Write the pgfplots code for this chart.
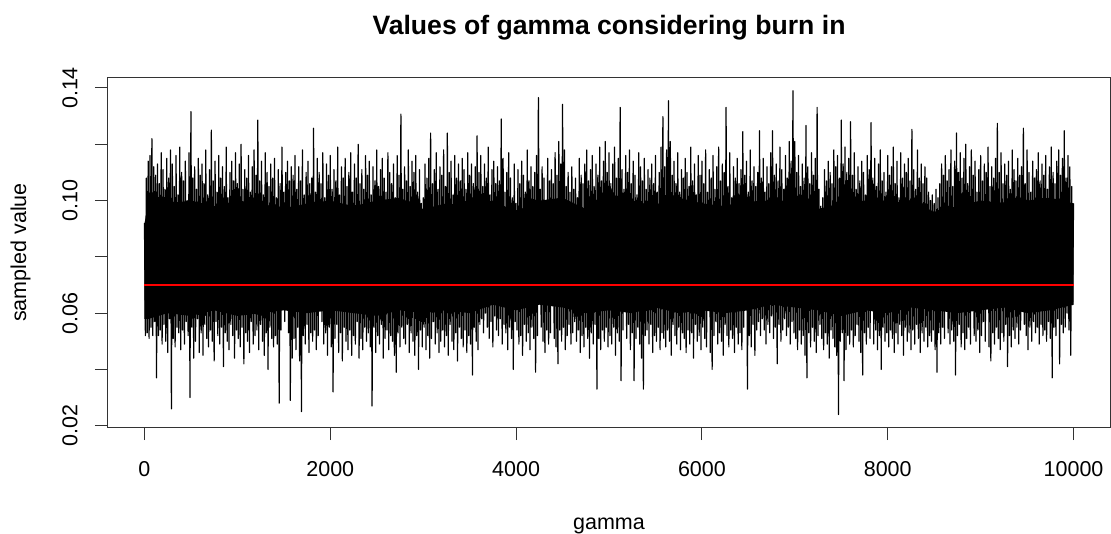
\documentclass[border=0pt]{standalone}
\usepackage{pgfplots}
\pgfplotsset{compat=1.18}
\usepackage{fontspec}
\setmainfont{Liberation Sans}
\begin{document}
\begin{tikzpicture}
\useasboundingbox (-53.65pt,-53.15pt) rectangle (501.85pt,213.85pt);
\begin{axis}[
  at={(0pt,0pt)}, anchor=south west,
  scale only axis, width=501.7pt, height=175.2pt,
  xmin=-400, xmax=10400, ymin=0.01929, ymax=0.1438,
  scaled x ticks=false, scaled y ticks=false,
  axis line style={black!80, line width=0.5pt},
  tick style={black!80, line width=0.5pt},
  tick align=outside, major tick length=6.2pt,
  tick pos=left,
  xtick={0,2000,4000,6000,8000,10000},
  xticklabels={0,2000,4000,6000,8000,10000},
  ytick={0.02,0.04,0.06,0.08,0.10,0.12,0.14},
  yticklabels={0.02,,0.06,,0.10,,0.14},
  tick label style={font=\fontsize{10.75}{12}\selectfont},
  xticklabel style={anchor=base, yshift=-17.95pt},
  yticklabel style={anchor=base, rotate=90, yshift=8.8pt},
  title={Values of gamma considering burn in},
  title style={font=\bfseries\fontsize{13.3}{16}\selectfont, at={(axis description cs:0.5,1.0885)}, anchor=base},
  xlabel={gamma},
  xlabel style={font=\fontsize{10.75}{12}\selectfont, at={(axis description cs:0.5,-0.2894)}, anchor=base},
  ylabel={sampled value},
  ylabel style={font=\fontsize{10.75}{12}\selectfont, at={(axis description cs:-0.0810,0.5)}, anchor=base, rotate=0},
]
% dense core of the trace (solid black region)
\addplot[fill=black, draw=none] coordinates {
(0,0.092) (50,0.099) (250,0.099) (500,0.100) (750,0.098) (1000,0.100) (1250,0.099) (1500,0.097) (1750,0.099) (2000,0.100)
(2250,0.098) (2500,0.100) (2750,0.101) (3000,0.097) (3250,0.099) (3500,0.098) (3750,0.100) (4000,0.096) (4250,0.100) (4500,0.101)
(4750,0.097) (5000,0.099) (5250,0.100) (5500,0.098) (5750,0.101) (6000,0.099) (6250,0.098) (6500,0.100) (6750,0.099) (7000,0.101)
(7250,0.097) (7500,0.099) (7750,0.100) (8000,0.099) (8250,0.100) (8500,0.096) (8750,0.098) (9000,0.100) (9250,0.099) (9500,0.100)
(9750,0.101) (10000,0.099)
(10000,0.063) (9750,0.061) (9500,0.060) (9250,0.062) (9000,0.061) (8750,0.060) (8500,0.061) (8250,0.062) (8000,0.060) (7750,0.061)
(7500,0.059) (7250,0.061) (7000,0.062) (6750,0.063) (6500,0.061) (6250,0.060) (6000,0.061) (5750,0.060) (5500,0.062) (5250,0.060)
(5000,0.061) (4750,0.060) (4500,0.062) (4250,0.063) (4000,0.061) (3750,0.063) (3500,0.060) (3250,0.061) (3000,0.060) (2750,0.061)
(2500,0.059) (2250,0.060) (2000,0.061) (1750,0.060) (1500,0.061) (1250,0.060) (1000,0.059) (750,0.061) (500,0.059) (250,0.060)
(50,0.058) (0,0.058)
} -- cycle;
\addplot[black, line width=0.6pt, line join=round, mark=none] table[row sep=\\, header=false, x expr=\coordindex*10, y index=0] {
0.092\\0.052\\0.108\\0.053\\0.114\\0.051\\0.116\\0.055\\0.122\\0.052\\0.112\\0.057\\0.109\\0.037\\0.113\\0.052\\0.106\\0.054\\0.117\\0.049\\
0.111\\0.056\\0.104\\0.050\\0.115\\0.046\\0.108\\0.058\\0.118\\0.026\\0.113\\0.051\\0.105\\0.048\\0.116\\0.055\\0.102\\0.053\\0.119\\0.047\\
0.110\\0.054\\0.107\\0.049\\0.114\\0.057\\0.100\\0.052\\0.117\\0.030\\0.1316\\0.055\\0.108\\0.044\\0.112\\0.050\\0.104\\0.058\\0.115\\0.046\\
0.109\\0.053\\0.113\\0.045\\0.106\\0.056\\0.118\\0.051\\0.102\\0.048\\0.111\\0.054\\0.125\\0.050\\0.107\\0.043\\0.114\\0.057\\0.103\\0.052\\
0.116\\0.049\\0.108\\0.055\\0.112\\0.041\\0.105\\0.053\\0.119\\0.050\\0.101\\0.047\\0.110\\0.056\\0.114\\0.052\\0.107\\0.044\\0.117\\0.054\\
0.106\\0.051\\0.113\\0.048\\0.120\\0.055\\0.104\\0.042\\0.111\\0.053\\0.108\\0.050\\0.116\\0.046\\0.103\\0.057\\0.112\\0.049\\0.118\\0.052\\
0.109\\0.054\\0.1286\\0.047\\0.107\\0.056\\0.114\\0.050\\0.102\\0.045\\0.117\\0.053\\0.110\\0.040\\0.105\\0.055\\0.113\\0.051\\0.108\\0.048\\
0.115\\0.052\\0.101\\0.049\\0.111\\0.028\\0.106\\0.054\\0.119\\0.069\\0.103\\0.057\\0.110\\0.075\\0.114\\0.053\\0.107\\0.029\\0.112\\0.044\\
0.109\\0.051\\0.116\\0.047\\0.104\\0.055\\0.112\\0.043\\0.107\\0.025\\0.118\\0.052\\0.102\\0.049\\0.110\\0.056\\0.114\\0.046\\0.106\\0.053\\
0.108\\0.050\\0.1257\\0.054\\0.103\\0.047\\0.115\\0.052\\0.110\\0.070\\0.106\\0.057\\0.117\\0.049\\0.101\\0.053\\0.113\\0.045\\0.109\\0.055\\
0.116\\0.048\\0.104\\0.032\\0.111\\0.051\\0.107\\0.056\\0.119\\0.046\\0.102\\0.053\\0.112\\0.043\\0.108\\0.055\\0.115\\0.050\\0.105\\0.047\\
0.110\\0.054\\0.117\\0.045\\0.103\\0.052\\0.113\\0.049\\0.108\\0.057\\0.120\\0.044\\0.106\\0.051\\0.111\\0.047\\0.104\\0.055\\0.116\\0.050\\
0.109\\0.053\\0.114\\0.048\\0.102\\0.027\\0.112\\0.055\\0.107\\0.046\\0.118\\0.052\\0.105\\0.049\\0.111\\0.056\\0.115\\0.044\\0.108\\0.051\\
0.103\\0.054\\0.117\\0.047\\0.110\\0.052\\0.106\\0.050\\0.113\\0.045\\0.101\\0.039\\0.116\\0.053\\0.109\\0.048\\0.1307\\0.055\\0.104\\0.051\\
0.112\\0.049\\0.107\\0.056\\0.118\\0.046\\0.105\\0.053\\0.114\\0.050\\0.110\\0.045\\0.116\\0.052\\0.103\\0.040\\0.111\\0.054\\0.099\\0.048\\
0.101\\0.055\\0.113\\0.047\\0.108\\0.052\\0.115\\0.044\\0.124\\0.051\\0.106\\0.057\\0.111\\0.049\\0.117\\0.053\\0.104\\0.046\\0.112\\0.050\\
0.109\\0.054\\0.118\\0.048\\0.105\\0.052\\0.124\\0.045\\0.110\\0.056\\0.114\\0.050\\0.102\\0.047\\0.116\\0.053\\0.108\\0.043\\0.113\\0.055\\
0.107\\0.051\\0.115\\0.048\\0.111\\0.054\\0.104\\0.046\\0.117\\0.052\\0.109\\0.049\\0.113\\0.038\\0.106\\0.055\\0.112\\0.050\\0.123\\0.047\\
0.110\\0.056\\0.116\\0.058\\0.105\\0.053\\0.113\\0.060\\0.108\\0.055\\0.119\\0.051\\0.102\\0.057\\0.111\\0.048\\0.114\\0.059\\0.106\\0.054\\
0.112\\0.052\\0.107\\0.058\\0.129\\0.049\\0.115\\0.056\\0.103\\0.053\\0.110\\0.047\\0.117\\0.055\\0.108\\0.051\\0.101\\0.040\\0.113\\0.057\\
0.099\\0.054\\0.111\\0.049\\0.106\\0.052\\0.114\\0.045\\0.109\\0.056\\0.103\\0.050\\0.118\\0.053\\0.107\\0.047\\0.112\\0.055\\0.105\\0.051\\
0.110\\0.039\\0.116\\0.052\\0.1366\\0.070\\0.104\\0.055\\0.112\\0.050\\0.108\\0.046\\0.100\\0.054\\0.115\\0.049\\0.107\\0.053\\0.111\\0.069\\
0.106\\0.051\\0.117\\0.048\\0.109\\0.042\\0.121\\0.054\\0.113\\0.050\\0.1342\\0.055\\0.118\\0.047\\0.105\\0.052\\0.110\\0.056\\0.103\\0.049\\
0.112\\0.053\\0.104\\0.057\\0.108\\0.050\\0.101\\0.054\\0.115\\0.046\\0.109\\0.052\\0.106\\0.048\\0.113\\0.055\\0.118\\0.051\\0.107\\0.044\\
0.111\\0.053\\0.116\\0.049\\0.105\\0.056\\0.113\\0.033\\0.109\\0.051\\0.119\\0.047\\0.107\\0.054\\0.114\\0.050\\0.121\\0.055\\0.110\\0.048\\
0.117\\0.052\\0.106\\0.049\\0.113\\0.055\\0.119\\0.045\\0.108\\0.053\\0.115\\0.050\\0.1331\\0.036\\0.111\\0.054\\0.104\\0.072\\0.116\\0.051\\
0.110\\0.056\\0.118\\0.047\\0.106\\0.053\\0.114\\0.036\\0.109\\0.051\\0.102\\0.055\\0.117\\0.049\\0.112\\0.044\\0.107\\0.033\\0.115\\0.052\\
0.104\\0.054\\0.111\\0.049\\0.108\\0.056\\0.113\\0.046\\0.106\\0.052\\0.116\\0.050\\0.103\\0.055\\0.110\\0.047\\0.119\\0.053\\0.1298\\0.051\\
0.112\\0.048\\0.118\\0.054\\0.1355\\0.050\\0.121\\0.045\\0.109\\0.056\\0.114\\0.052\\0.106\\0.049\\0.117\\0.055\\0.103\\0.047\\0.111\\0.053\\
0.108\\0.051\\0.115\\0.046\\0.110\\0.054\\0.105\\0.049\\0.119\\0.053\\0.107\\0.044\\0.113\\0.056\\0.102\\0.050\\0.116\\0.052\\0.109\\0.047\\
0.114\\0.055\\0.106\\0.051\\0.118\\0.048\\0.103\\0.071\\0.111\\0.046\\0.108\\0.040\\0.116\\0.052\\0.104\\0.057\\0.112\\0.049\\0.119\\0.053\\
0.107\\0.050\\0.113\\0.045\\0.110\\0.056\\0.1331\\0.052\\0.105\\0.048\\0.117\\0.054\\0.101\\0.051\\0.112\\0.046\\0.108\\0.055\\0.115\\0.049\\
0.106\\0.053\\0.111\\0.047\\0.1245\\0.055\\0.109\\0.070\\0.114\\0.033\\0.103\\0.052\\0.118\\0.048\\0.107\\0.056\\0.112\\0.045\\0.105\\0.054\\
0.110\\0.057\\0.1248\\0.052\\0.108\\0.058\\0.115\\0.054\\0.103\\0.049\\0.112\\0.056\\0.106\\0.053\\0.117\\0.059\\0.1248\\0.051\\0.109\\0.055\\
0.113\\0.042\\0.107\\0.056\\0.119\\0.050\\0.111\\0.054\\0.104\\0.058\\0.116\\0.052\\0.108\\0.055\\0.121\\0.049\\0.114\\0.057\\0.139\\0.053\\
0.121\\0.051\\0.110\\0.047\\0.116\\0.054\\0.105\\0.049\\0.113\\0.052\\0.108\\0.045\\0.1267\\0.037\\0.112\\0.053\\0.106\\0.048\\0.117\\0.055\\
0.109\\0.050\\0.115\\0.046\\0.1331\\0.052\\0.104\\0.056\\0.098\\0.051\\0.101\\0.047\\0.111\\0.053\\0.107\\0.049\\0.114\\0.044\\0.110\\0.054\\
0.106\\0.051\\0.118\\0.048\\0.112\\0.045\\0.116\\0.024\\0.108\\0.050\\0.1286\\0.053\\0.113\\0.036\\0.119\\0.047\\0.110\\0.052\\0.115\\0.049\\
0.128\\0.054\\0.109\\0.048\\0.117\\0.052\\0.104\\0.056\\0.112\\0.050\\0.107\\0.046\\0.114\\0.038\\0.110\\0.053\\0.102\\0.049\\0.116\\0.055\\
0.111\\0.051\\0.1277\\0.072\\0.108\\0.049\\0.115\\0.054\\0.105\\0.047\\0.113\\0.052\\0.118\\0.040\\0.107\\0.055\\0.110\\0.050\\0.103\\0.053\\
0.116\\0.048\\0.109\\0.054\\0.112\\0.051\\0.119\\0.046\\0.106\\0.053\\0.114\\0.049\\0.101\\0.056\\0.117\\0.052\\0.108\\0.045\\0.113\\0.055\\
0.110\\0.050\\0.115\\0.053\\0.107\\0.047\\0.1253\\0.054\\0.111\\0.049\\0.104\\0.056\\0.118\\0.051\\0.108\\0.046\\0.113\\0.053\\0.106\\0.050\\
0.112\\0.055\\0.108\\0.048\\0.103\\0.052\\0.100\\0.050\\0.102\\0.054\\0.099\\0.047\\0.104\\0.039\\0.101\\0.053\\0.106\\0.049\\0.113\\0.055\\
0.109\\0.051\\0.116\\0.069\\0.107\\0.053\\0.111\\0.049\\0.118\\0.054\\0.105\\0.050\\0.114\\0.038\\0.124\\0.052\\0.110\\0.056\\0.117\\0.048\\
0.108\\0.053\\0.115\\0.047\\0.120\\0.051\\0.106\\0.055\\0.112\\0.049\\0.118\\0.069\\0.109\\0.052\\0.114\\0.050\\0.103\\0.054\\0.111\\0.046\\
0.116\\0.052\\0.107\\0.057\\0.113\\0.050\\0.110\\0.075\\0.119\\0.048\\0.105\\0.043\\0.112\\0.053\\0.108\\0.049\\0.115\\0.055\\0.1274\\0.051\\
0.110\\0.047\\0.117\\0.053\\0.106\\0.050\\0.113\\0.056\\0.109\\0.041\\0.114\\0.052\\0.104\\0.048\\0.118\\0.054\\0.111\\0.051\\0.107\\0.055\\
0.115\\0.049\\0.109\\0.054\\0.112\\0.071\\0.1257\\0.056\\0.106\\0.052\\0.118\\0.047\\0.110\\0.055\\0.103\\0.050\\0.114\\0.057\\0.108\\0.053\\
0.111\\0.055\\0.117\\0.049\\0.107\\0.056\\0.113\\0.052\\0.109\\0.054\\0.116\\0.050\\0.104\\0.057\\0.112\\0.051\\0.119\\0.037\\0.110\\0.055\\
0.106\\0.052\\0.114\\0.058\\0.118\\0.042\\0.109\\0.056\\0.115\\0.053\\0.1248\\0.055\\0.108\\0.060\\0.116\\0.054\\0.112\\0.045\\0.105\\0.063\\
0.099\\
};
\addplot[red, line width=0.55pt, mark=none] coordinates {(0,0.07) (10000,0.07)};
\end{axis}
\end{tikzpicture}
\end{document}
